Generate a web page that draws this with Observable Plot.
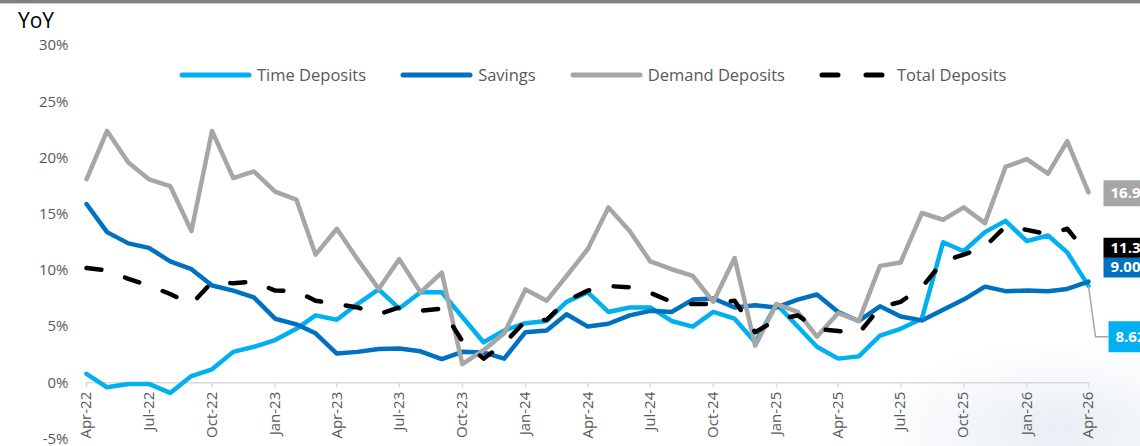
<!DOCTYPE html>
<html>
<head>
<meta charset="utf-8">
<script src="https://cdn.jsdelivr.net/npm/d3@7"></script>
<script src="https://cdn.jsdelivr.net/npm/@observablehq/plot@0.6"></script>
<style>
  html, body { margin: 0; padding: 0; background: #fff; overflow: hidden; }
  #wrap { position: relative; width: 1140px; height: 446px; overflow: hidden; font-family: "Open Sans", sans-serif;
    background: radial-gradient(ellipse 190px 90px at 1060px 430px, rgba(205,218,232,0.45), rgba(255,255,255,0) 100%), #fff; }
  #chart svg { display: block; overflow: hidden; }
  #topbar { position: absolute; left: 0; top: 0; width: 1140px; height: 3px; background: #7f7f7f; border-bottom: 1px solid #cfcfcf; }
  #title { position: absolute; left: 18px; top: 6px; font-size: 21px; color: #000; line-height: normal; }
  #legend { position: absolute; left: 179px; top: 63px; display: flex; align-items: center; font-size: 16.5px; color: #595959; line-height: normal; white-space: nowrap; }
  .item { display: flex; align-items: center; margin-right: 34px; }
  .item svg { margin-right: 5px; display: block; }
</style>
</head>
<body>
<div id="wrap">
  <div id="chart"></div>
  <div id="topbar"></div>
  <div id="title">YoY</div>
  <div id="legend"></div>
</div>
<script>
// ---------------- data ----------------
// monthly observations, Apr-22 .. Apr-26 (49 months)
const firstMonth = "2022-04";
const lastMonth = "2026-04";
const xTickLabels = ["Apr-22","Jul-22","Oct-22","Jan-23","Apr-23","Jul-23","Oct-23","Jan-24",
                     "Apr-24","Jul-24","Oct-24","Jan-25","Apr-25","Jul-25","Oct-25","Jan-26","Apr-26"];
const yTicks = [-5, 0, 5, 10, 15, 20, 25, 30];
const seriesNames = ["Time Deposits", "Savings", "Demand Deposits", "Total Deposits"];

const timeDeposits = [0.8, -0.4, -0.1, -0.1, -0.9, 0.6, 1.2, 2.75, 3.2, 3.8, 4.8, 6.0, 5.6, 7.0, 8.3, 6.6,
  8.05, 8.05, 5.85, 3.6, 4.65, 5.3, 5.5, 7.2, 8.05, 6.3, 6.7, 6.7, 5.5, 5.0, 6.3, 5.7, 3.6, 7.0, 5.0,
  3.2, 2.15, 2.35, 4.2, 4.8, 5.7, 12.5, 11.7, 13.4, 14.4, 12.6, 13.1, 11.6, 8.62];
const savings = [15.9, 13.4, 12.4, 12.0, 10.8, 10.1, 8.65, 8.2, 7.6, 5.7, 5.2, 4.4, 2.6, 2.75, 3.0, 3.05,
  2.8, 2.1, 2.75, 2.7, 2.15, 4.5, 4.65, 6.1, 5.0, 5.25, 6.0, 6.4, 6.3, 7.4, 7.5, 6.7, 6.9, 6.7, 7.4,
  7.85, 6.3, 5.5, 6.8, 5.9, 5.55, 6.5, 7.4, 8.55, 8.15, 8.2, 8.15, 8.35, 9.0];
const demandDeposits = [18.1, 22.4, 19.6, 18.1, 17.5, 13.5, 22.4, 18.2, 18.8, 17.0, 16.3, 11.4, 13.7, 11.0,
  8.35, 11.0, 8.05, 9.8, 1.65, 2.9, 4.4, 8.3, 7.3, 9.5, 11.9, 15.6, 13.5, 10.8, 10.1, 9.5, 7.2, 11.1,
  3.3, 7.0, 6.3, 4.1, 6.2, 5.5, 10.4, 10.7, 15.1, 14.5, 15.6, 14.2, 19.2, 19.9, 18.6, 21.5, 16.94];
const totalDeposits = [10.2, 10.0, 9.25, 8.65, 7.9, 7.0, 8.95, 8.85, 9.0, 8.2, 8.15, 7.3, 7.0, 6.7, 6.1,
  6.7, 6.4, 6.6, 3.7, 2.15, 3.5, 5.5, 5.6, 7.3, 8.2, 8.6, 8.5, 8.0, 7.2, 7.0, 7.0, 7.3, 4.5, 5.6, 6.0,
  4.8, 4.6, 4.4, 6.7, 7.2, 8.5, 10.8, 11.4, 12.1, 13.9, 13.6, 13.2, 13.7, 11.39];

// ---------------- styles ----------------
const colors = ["#00B0F0", "#0070C0", "#A6A6A6", "#000000"];
const dashes = [null, null, null, "15,25"];
// end-label placement (pixel offsets from the last point)
const labelOffsets = [
  {dx: 20, dy: 51, h: 31, leader: true},
  {dx: 15, dy: -14, h: 20},
  {dx: 15, dy: 1, h: 26},
  {dx: 15, dy: -7, h: 20}
];

const W = 1140, H = 446, mL = 86, mR = 52, mT = 45, mB = 7.5;

// ---------------- build ----------------
const parseM = d3.utcParse("%Y-%m");
const months = d3.utcMonth.range(parseM(firstMonth), d3.utcMonth.offset(parseM(lastMonth), 1));
const parseTick = d3.utcParse("%b-%y");
const tickDates = xTickLabels.map(parseTick);
const valuesList = [timeDeposits, savings, demandDeposits, totalDeposits];

const rows = [];
valuesList.forEach((vals, s) => vals.forEach((v, i) => rows.push({date: months[i], value: v, series: seriesNames[s]})));

const [yLo, yHi] = d3.extent(yTicks);
const yPix = v => mT + (yHi - v) / (yHi - yLo) * (H - mT - mB);
const axisDy = yPix(0) - yPix(yLo);

const lineMarks = seriesNames.map((name, s) =>
  Plot.lineY(rows.filter(r => r.series === name), {
    x: "date", y: "value", stroke: colors[s], strokeWidth: 4.5,
    strokeLinejoin: "round", strokeLinecap: "round",
    strokeDasharray: dashes[s] ?? undefined
  })
);

const rectSymbol = (w, h) => ({draw(ctx) { ctx.rect(0, -h / 2, w, h); }});
const leaderSymbol = (dx, dy) => ({draw(ctx) { ctx.moveTo(0, 0); ctx.lineTo(dx - 13, dy); ctx.lineTo(dx, dy); }});

const labelMarks = [];
seriesNames.forEach((name, s) => {
  const last = rows.filter(r => r.series === name).at(-1);
  const o = labelOffsets[s];
  if (o.leader) {
    labelMarks.push(Plot.dot([last], {x: "date", y: "value", r: 4, symbol: leaderSymbol(o.dx, o.dy),
      fill: "none", stroke: "#a6a6a6", strokeWidth: 1.5}));
  }
  labelMarks.push(Plot.dot([last], {x: "date", y: "value", r: 4, symbol: rectSymbol(80, o.h),
    dx: o.dx, dy: o.dy, fill: colors[s], stroke: "none"}));
  labelMarks.push(Plot.text([last], {x: "date", y: "value", text: d => d.value.toFixed(2) + "%",
    dx: o.dx + 7, dy: o.dy, textAnchor: "start", fill: "white", fontWeight: "bold", fontSize: 15}));
});

const chart = Plot.plot({
  width: W, height: H,
  marginLeft: mL, marginRight: mR, marginTop: mT, marginBottom: mB,
  x: {type: "utc", domain: [months[0], months[months.length - 1]]},
  y: {domain: [yLo, yHi]},
  style: {fontFamily: "Open Sans, sans-serif", fontSize: "15px", background: "transparent", color: "#595959"},
  marks: [
    Plot.axisY({ticks: yTicks, tickFormat: d => d + "%", tickSize: 0, tickPadding: 18, label: null, fill: "#595959"}),
    Plot.axisX({ticks: tickDates, tickFormat: d3.utcFormat("%b-%y"), tickRotate: -90, tickSize: 5, tickPadding: 4,
      dy: axisDy, label: null, stroke: "#d9d9d9", strokeWidth: 1.5, fill: "#595959"}),
    Plot.ruleY([0], {stroke: "#d9d9d9", strokeWidth: 1.5}),
    ...lineMarks,
    ...labelMarks
  ]
});
document.getElementById("chart").appendChild(chart);

// legend
const legend = document.getElementById("legend");
seriesNames.forEach((name, s) => {
  const item = document.createElement("div");
  item.className = "item";
  const dash = dashes[s] ? `stroke-dasharray="16,28"` : "";
  item.innerHTML = `<svg width="73" height="10"><line x1="3" y1="5" x2="70" y2="5" stroke="${colors[s]}" stroke-width="5" stroke-linecap="round" ${dash}/></svg><span>${name}</span>`;
  legend.appendChild(item);
});
</script>
</body>
</html>
